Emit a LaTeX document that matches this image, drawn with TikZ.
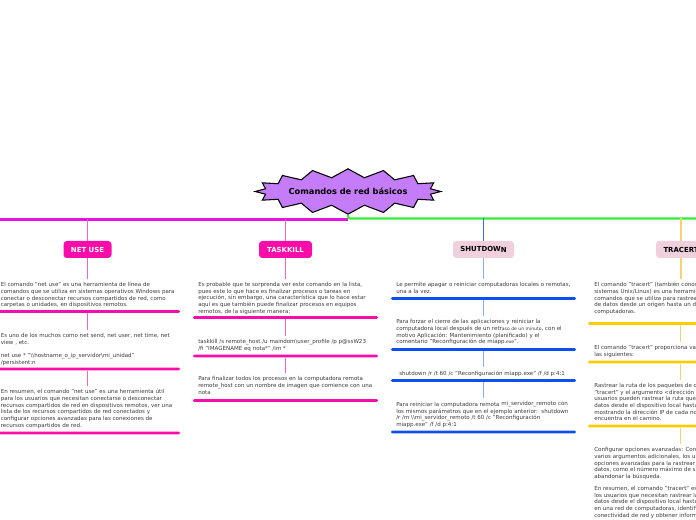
\documentclass[tikz,border=0pt]{standalone}
\usepackage{fontspec}
\setmainfont{DejaVu Sans}
\usetikzlibrary{shapes.symbols}

\definecolor{hubfill}{HTML}{C57CF8}
\definecolor{magline}{HTML}{E212E2}
\definecolor{grnline}{HTML}{33EE33}
\definecolor{pinkbox}{HTML}{FA0CA8}
\definecolor{pinkthin}{HTML}{F560CC}
\definecolor{bluetop}{HTML}{3A6AE0}
\definecolor{blueline}{HTML}{0E4FF0}
\definecolor{bluethin}{HTML}{8AAAF5}
\definecolor{yelline}{HTML}{FFCC00}
\definecolor{yelthin}{HTML}{F5D470}
\definecolor{softbox}{HTML}{EFD0DC}
\definecolor{txtgray}{HTML}{3C3C3C}

\newcommand{\bs}{\textbackslash}
\newcommand{\tinybit}[1]{{\fontsize{3.4}{4}\selectfont #1}}

\begin{document}
\begin{tikzpicture}[x=0.75pt,y=-0.75pt,
  hub/.style={starburst,starburst points=16,starburst point height=6.5pt,
              random starburst=0,draw,fill=hubfill,line width=0.8pt,
              minimum width=123pt,minimum height=34pt,inner sep=0pt,
              font=\fontsize{6.2}{7}\selectfont\bfseries},
  topic/.style={rectangle,rounded corners=2.5pt,minimum height=12.75pt,
                inner sep=0pt,font=\fontsize{5.2}{6}\selectfont\bfseries},
  hot/.style={topic,fill=pinkbox,text=white},
  soft/.style={topic,fill=softbox,text=black},
  para/.style={anchor=north west,inner sep=0pt,align=left,text=txtgray,
               font=\fontsize{4.15}{5}\selectfont},
  bar/.style={rectangle,rounded corners=1pt,minimum width=138.75pt,
              minimum height=2.2pt,inner sep=0pt},
  spine/.style={line width=1.6pt},
  twig/.style={line width=1pt,shorten >=2.5pt},
]
  \useasboundingbox (0,0) rectangle (696,520);
  \clip (0,0) rectangle (696,520);

  % Central topic and spine
  \node[hub] (hub) at (348,191.5) {Comandos de red básicos};
  \coordinate (root) at (348,219);
  \coordinate (spL) at (-5,219.5);
  \coordinate (spR) at (701,218.5);
  \draw[spine,magline] (root |- spL) -- (spL);
  \draw[spine,grnline,rounded corners=1.5pt] (hub) -- (root |- spR) -- (spR);

  % NET USE
  \node[hot,minimum width=36pt] (nu) at (87.5,249.5) {NET USE};
  \node[para] (nuA) at (0.5,282) {El comando "net use" es una herramienta de línea de\\
    comandos que se utiliza en sistemas operativos Windows para\\
    conectar o desconectar recursos compartidos de red, como\\
    carpetas o unidades, en dispositivos remotos.};
  \node[bar,fill=pinkbox] (nuU1) at (87.5,311.5) {};
  \node[para] (nuB) at (0.5,333) {Es uno de los muchos como net send, net user, net time, net\\
    view , etc.\\[5pt]
    net use * "\bs\bs hostname\_o\_ip\_servidor\bs mi\_unidad"\\
    /persistent:n};
  \node[bar,fill=pinkbox] (nuU2) at (87.5,369) {};
  \node[para] (nuC) at (0.5,389) {En resumen, el comando "net use" es una herramienta útil\\
    para los usuarios que necesitan conectarse o desconectar\\
    recursos compartidos de red en dispositivos remotos, ver una\\
    lista de los recursos compartidos de red conectados y\\
    configurar opciones avanzadas para las conexiones de\\
    recursos compartidos de red.};
  \node[bar,fill=pinkbox] (nuU3) at (87.5,433) {};
  \draw[twig,pinkthin,shorten >=0pt] (nu |- spL) -- (nu);
  \draw[twig,pinkthin] (nu) -- (nu |- nuA.north);
  \draw[twig,pinkthin] (nuU1) -- (nuU1 |- nuB.north);
  \draw[twig,pinkthin] (nuU2) -- (nuU2 |- nuC.north);

  % TASKKILL
  \node[hot,minimum width=39.75pt] (tk) at (285.5,249.5) {TASKKILL};
  \node[para] (tkA) at (198,282) {Es probable que te sorprenda ver este comando en la lista,\\
    pues este lo que hace es finalizar procesos o tareas en\\
    ejecución, sin embargo, una característica que lo hace estar\\
    aquí es que también puede finalizar procesos en equipos\\
    remotos, de la siguiente manera:};
  \node[bar,fill=pinkbox] (tkU1) at (285.5,317.5) {};
  \node[para] (tkB) at (198,339.5) {taskkill /s remote\_host /u maindom\bs user\_profile /p p@ssW23\\
    /fi "IMAGENAME eq nota*" /im *};
  \node[bar,fill=pinkbox] (tkU2) at (285.5,356) {};
  \node[para] (tkC) at (198,376.5) {Para finalizar todos los procesos en la computadora remota\\
    remote\_host con un nombre de imagen que comience con una\\
    nota};
  \node[bar,fill=pinkbox] (tkU3) at (285.5,400.5) {};
  \draw[twig,pinkthin,shorten >=0pt] (tk |- spL) -- (tk);
  \draw[twig,pinkthin] (tk) -- (tk |- tkA.north);
  \draw[twig,pinkthin] (tkU1) -- (tkU1 |- tkB.north);
  \draw[twig,pinkthin] (tkU2) -- (tkU2 |- tkC.north);

  % SHUTDOWN
  \node[soft,minimum width=45.75pt] (sd) at (483.5,249.5) {SHUTDOW\raisebox{-1pt}{N}};
  \node[para] (sdA) at (396,282) {Le permite apagar o reiniciar computadoras locales o remotas,\\
    una a la vez.};
  \node[bar,fill=blueline] (sdU1) at (483.5,298.5) {};
  \node[para] (sdB) at (396,319.5) {Para forzar el cierre de las aplicaciones y reiniciar la\\
    computadora local después de un retr\tinybit{aso de un minuto}, con el\\
    motivo Aplicación: Mantenimiento (planificado) y el\\
    comentario "Reconfiguración de miapp\tinybit{.exe}".};
  \node[bar,fill=blueline] (sdU2) at (483.5,349.5) {};
  \node[para] (sdC) at (399,370.5) {shutdown /r /t 60 /c "Reconfiguración miapp.exe" /f /d p:4:1};
  \node[bar,fill=blueline] (sdU3) at (483.5,380.5) {};
  \node[para] (sdD) at (396,401) {Para reiniciar la computadora remota \raisebox{0.8pt}{mi\_servidor\_remoto con}\\
    los mismos parámetros que en el ejemplo anterior:\ \ shutdown\\
    /r /m \bs\bs mi\_servidor\_remoto /t 60 /c "Reconfiguración\\
    miapp.exe" /f /d p:4:1};
  \node[bar,fill=blueline] (sdU4) at (483.5,432) {};
  \draw[twig,bluetop,shorten >=0pt] (sd |- spR) -- (sd);
  \draw[twig,bluethin] (sd) -- (sd |- sdA.north);
  \draw[twig,bluethin] (sdU1) -- (sdU1 |- sdB.north);
  \draw[twig,bluethin] (sdU2) -- (sdU2 |- sdC.north);
  \draw[twig,bluethin] (sdU3) -- (sdU3 |- sdD.north);

  % TRACERT (cut off by the right edge)
  \node[soft,minimum width=37.5pt] (tr) at (681,249.5) {TRACERT};
  \node[para] (trA) at (594,282) {El comando "tracert" (también conocido como traceroute en\\
    sistemas Unix/Linux) es una herramienta de línea de\\
    comandos que se utiliza para rastrear la ruta de los paquetes\\
    de datos desde un origen hasta un destino en una red de\\
    computadoras.};
  \node[bar,fill=yelline] (trU1) at (680.5,323.5) {};
  \node[para] (trB) at (594,345) {El comando "tracert" proporciona varias funcionalidades, entre\\
    las siguientes:};
  \node[bar,fill=yelline] (trU2) at (680.5,362) {};
  \node[para] (trC) at (594,383) {Rastrear la ruta de los paquetes de datos: Al utilizar el comando\\
    "tracert" y el argumento <dirección IP o nombre de host>, los\\
    usuarios pueden rastrear la ruta que siguen los paquetes de\\
    datos desde el dispositivo local hasta el destino especificado,\\
    mostrando la dirección IP de cada nodo o enrutador que se\\
    encuentra en el camino.};
  \node[bar,fill=yelline] (trU3) at (680.5,426) {};
  \node[para] (trD) at (594,447.5) {Configurar opciones avanzadas: Con el comando "tracert", se pueden\\
    varios argumentos adicionales, los usuarios pueden configurar\\
    opciones avanzadas para la rastrear la ruta de los paquetes de\\
    datos, como el número máximo de saltos o el tiempo de espera antes de\\
    abandonar la búsqueda.\\[4pt]
    En resumen, el comando "tracert" es una herramienta útil para\\
    los usuarios que necesitan rastrear la ruta de los paquetes de\\
    datos desde el dispositivo local hasta un destino específico\\
    en una red de computadoras, identificar problemas de\\
    conectividad de red y obtener información sobre la red.};
  \draw[twig,yelthin,shorten >=0pt] (tr |- spR) -- (tr);
  \draw[twig,yelthin] (tr) -- (tr |- trA.north);
  \draw[twig,yelthin] (trU1) -- (trU1 |- trB.north);
  \draw[twig,yelthin] (trU2) -- (trU2 |- trC.north);
  \draw[twig,yelthin] (trU3) -- (trU3 |- trD.north);
\end{tikzpicture}
\end{document}
